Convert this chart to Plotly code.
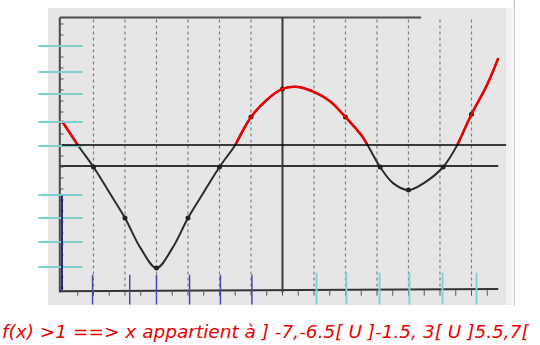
import plotly.graph_objects as go
import numpy as np

# ---- data (x in grid units, f(x) in grid units) ----
curve_x = [-7, -6.5, -6, -5.5, -5, -4.5, -4, -3.5, -3, -2.5, -2, -1.5, -1, -0.5, 0, 0.5, 1, 1.5, 2, 2.5, 2.7, 3.1, 3.5, 4, 4.5, 5.1, 5.55, 6, 6.5, 6.85]
curve_y = [2.09, 1.0, 0.0, -1.15, -2.32, -3.7, -4.59, -3.7, -2.32, -1.15, 0.0, 1.0, 2.27, 3.05, 3.55, 3.64, 3.41, 3.0, 2.27, 1.45, 1.0, 0.0, -0.72, -1.05, -0.72, 0.0, 1.0, 2.4, 3.75, 4.95]
dot_x = [-6, -5, -4, -3, -2, -1, 0, 2, 3.1, 4, 5.1, 6]
dot_y = [0.0, -2.32, -4.59, -2.32, 0.0, 2.27, 3.55, 2.27, 0.0, -1.05, 0.0, 2.4]
level = 1
intervals = [(-7, -6.5), (-1.5, 2.7), (5.55, 6.85)]
grid_x = [-6, -5, -4, -3, -2, -1, 1, 2, 3, 4, 5, 6]
left_marks_y = [5.5, 4.32, 3.32, 2.05, 0.95, -1.27, -2.32, -3.41, -4.55]
bottom_blue_x = [-6.03, -4.85, -4.0, -2.95, -1.97, -0.97]
bottom_teal_x = [1.08, 2.03, 3.08, 4.03, 5.08, 6.16]
caption = "f(x) >1 ==> x appartient à ] -7,-6.5[ U ]-1.5, 3[ U ]5.5,7["

fig = go.Figure()

shapes = []
# scanned paper background
shapes.append(dict(type="rect", xref="x", yref="y", x0=-7.44, x1=7.1, y0=-6.27, y1=7.23,
                   fillcolor="#e6e6e6", line=dict(width=0), layer="below"))
shapes.append(dict(type="rect", xref="x", yref="y", x0=7.1, x1=7.3, y0=-6.27, y1=7.23,
                   fillcolor="#f2f2f2", line=dict(width=0), layer="below"))
shapes.append(dict(type="line", xref="x", yref="y", x0=7.36, x1=7.36, y0=7.59, y1=-6.3,
                   line=dict(color="#bdbdbd", width=1), layer="below"))
# dotted grid
for gx in grid_x:
    shapes.append(dict(type="line", xref="x", yref="y", x0=gx, x1=gx, y0=6.7, y1=-5.6,
                       line=dict(color="#808080", width=1.2, dash="dot"), layer="below"))
# frame & axes
shapes.append(dict(type="line", xref="x", yref="y", x0=-7.07, x1=4.4, y0=6.8, y1=6.8,
                   line=dict(color="#4a4a4a", width=2), layer="below"))
shapes.append(dict(type="line", xref="x", yref="y", x0=-7.07, x1=-7.07, y0=6.8, y1=-5.7,
                   line=dict(color="#4a4a4a", width=2), layer="below"))
shapes.append(dict(type="line", xref="x", yref="y", x0=0, x1=0, y0=6.8, y1=-5.7,
                   line=dict(color="#3a3a3a", width=2), layer="below"))
shapes.append(dict(type="line", xref="x", yref="y", x0=-7.07, x1=6.85, y0=0.05, y1=0.05,
                   line=dict(color="#333333", width=2), layer="below"))
shapes.append(dict(type="line", xref="x", yref="y", x0=-7.07, x1=6.85, y0=-5.65, y1=-5.55,
                   line=dict(color="#333333", width=2), layer="below"))
# small ticks on left axis and bottom axis
for t in np.arange(-5.5, 6.8, 0.5):
    shapes.append(dict(type="line", xref="x", yref="y", x0=-7.07, x1=-6.95, y0=t, y1=t,
                       line=dict(color="#555555", width=1), layer="below"))
for t in np.arange(-6.5, 7.0, 0.5):
    shapes.append(dict(type="line", xref="x", yref="y", x0=t, x1=t, y0=-5.6, y1=-5.85,
                       line=dict(color="#555555", width=1), layer="below"))
# hand-drawn coloured marks
for my in left_marks_y:
    shapes.append(dict(type="line", xref="x", yref="y", x0=-7.75, x1=-6.35, y0=my, y1=my,
                       line=dict(color="#7fcfcf", width=2)))
shapes.append(dict(type="line", xref="x", yref="y", x0=-7.0, x1=-7.0, y0=-1.3, y1=-5.6,
                   line=dict(color="#2a2a80", width=2)))
for bx in bottom_blue_x:
    shapes.append(dict(type="line", xref="x", yref="y", x0=bx, x1=bx, y0=-4.9, y1=-6.25,
                       line=dict(color="#4a4aa8", width=1.5)))
for bx in bottom_teal_x:
    shapes.append(dict(type="line", xref="x", yref="y", x0=bx, x1=bx, y0=-4.8, y1=-6.25,
                       line=dict(color="#7fd4d4", width=2)))
# level line y = 1
shapes.append(dict(type="line", xref="x", yref="y", x0=-7.0, x1=7.1, y0=level, y1=level,
                   line=dict(color="black", width=1.3)))
fig.update_layout(shapes=shapes)

# curve
fig.add_trace(go.Scatter(x=curve_x, y=curve_y, mode="lines",
                         line=dict(color="#2b2b2b", width=2, shape="spline", smoothing=1.0),
                         hoverinfo="skip", showlegend=False))
fig.add_trace(go.Scatter(x=dot_x, y=dot_y, mode="markers",
                         marker=dict(color="#222222", size=5), hoverinfo="skip", showlegend=False))
# red parts where f(x) > 1
for a, b in intervals:
    xs = [x for x in curve_x if a - 1e-9 <= x <= b + 1e-9]
    ys = [y for x, y in zip(curve_x, curve_y) if a - 1e-9 <= x <= b + 1e-9]
    fig.add_trace(go.Scatter(x=xs, y=ys, mode="lines",
                             line=dict(color="#ee0000", width=2.5, shape="spline", smoothing=1.0),
                             hoverinfo="skip", showlegend=False))

fig.add_annotation(text=caption, xref="paper", yref="paper", x=0, y=0.038,
                   xanchor="left", yanchor="middle", showarrow=False,
                   font=dict(family="DejaVu Sans", size=18.5, color="#ee0000", style="italic"))

fig.update_layout(
    width=540, height=345, margin=dict(l=0, r=0, t=0, b=0),
    paper_bgcolor="white", plot_bgcolor="white",
    xaxis=dict(range=[-8.968, 8.175], visible=False, fixedrange=True),
    yaxis=dict(range=[-8.09, 7.59], visible=False, fixedrange=True),
)
fig.write_html("out.html")
